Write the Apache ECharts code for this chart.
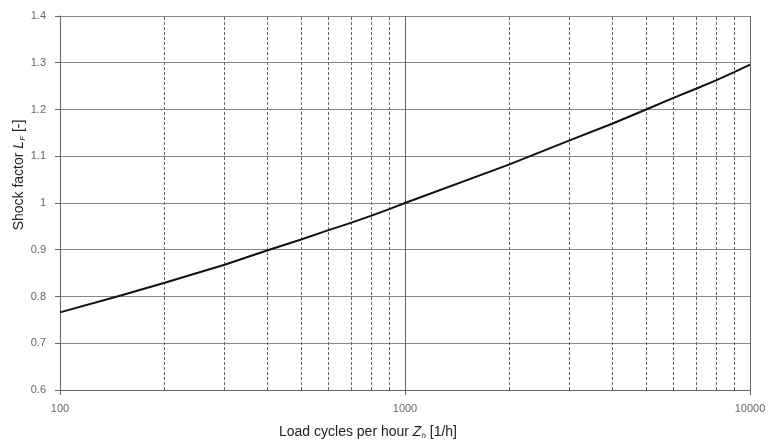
<!DOCTYPE html>
<html>
<head>
<meta charset="utf-8">
<script src="https://cdn.jsdelivr.net/npm/echarts@6/dist/echarts.min.js"></script>
<style>html,body{margin:0;padding:0;background:#fff}#c{width:772px;height:440px}</style>
</head>
<body>
<div id="c"></div>
<script>
const loadCycles = [100, 150, 200, 300, 400, 500, 600, 700, 800, 900, 1000, 2000, 3000, 4000, 5000, 6000, 7000, 8000, 9000, 10000];
const shockFactor = [0.766, 0.802, 0.829, 0.868, 0.899, 0.922, 0.942, 0.958, 0.973, 0.987, 1.000, 1.082, 1.134, 1.170, 1.200, 1.225, 1.245, 1.263, 1.280, 1.296];
const minorGridX = [200, 300, 400, 500, 600, 700, 800, 900, 2000, 3000, 4000, 5000, 6000, 7000, 8000, 9000];
const yTicks = [0.6, 0.7, 0.8, 0.9, 1, 1.1, 1.2, 1.3, 1.4];

const chart = echarts.init(document.getElementById('c'));
const font = '"Liberation Sans", Arial, sans-serif';
const nameRich = {
  i: { fontStyle: 'italic', fontFamily: font, fontSize: 14, color: '#222' },
  s: { fontStyle: 'italic', fontFamily: font, fontSize: 8, color: '#222', verticalAlign: 'bottom', padding: [7, 0, 0, 0] }
};
chart.setOption({
  animation: false,
  grid: { left: 60, right: 22, top: 16, bottom: 50, containLabel: false, outerBoundsMode: 'none' },
  xAxis: {
    type: 'log', logBase: 10, min: 100, max: 10000,
    name: 'Load cycles per hour {i|Z}{s|h} [1/h]',
    nameLocation: 'middle', nameGap: 35, nameMoveOverlap: false,
    nameTextStyle: { fontFamily: font, fontSize: 14, color: '#222', padding: [0, 74, 0, 0], rich: nameRich },
    axisLine: { show: true, lineStyle: { color: '#666', width: 1 } },
    axisTick: { show: true, length: 5, lineStyle: { color: '#666' } },
    axisLabel: { fontFamily: font, fontSize: 11, color: '#666', margin: 13, formatter: v => String(Math.round(v)) },
    splitLine: { show: true, lineStyle: { color: '#666', width: 1 } }
  },
  yAxis: {
    type: 'value', min: 0.6, max: 1.4, interval: 0.1,
    name: 'Shock factor {i|L}{s|F} [-]',
    nameLocation: 'middle', nameGap: 33, nameMoveOverlap: false,
    nameTextStyle: { fontFamily: font, fontSize: 14, color: '#222', padding: [0, 0, 0, 56], rich: nameRich },
    axisLine: { show: true, lineStyle: { color: '#666', width: 1 } },
    axisTick: { show: true, length: 5, lineStyle: { color: '#666' } },
    axisLabel: {
      fontFamily: font, fontSize: 11, color: '#666', margin: 14,
      formatter: v => { const r = Math.round(v * 10) / 10; return yTicks.includes(r) ? String(r) : ''; }
    },
    splitLine: { show: true, lineStyle: { color: '#888', width: 1 } }
  },
  series: [{
    type: 'line',
    data: loadCycles.map((x, i) => [x, shockFactor[i]]),
    showSymbol: false, smooth: false,
    lineStyle: { color: '#111', width: 2 },
    z: 5,
    markLine: {
      silent: true, symbol: ['none', 'none'], label: { show: false },
      lineStyle: { color: '#666', type: [3, 2], width: 1 },
      data: minorGridX.map(v => ({ xAxis: v }))
    }
  }]
});
</script>
</body>
</html>
